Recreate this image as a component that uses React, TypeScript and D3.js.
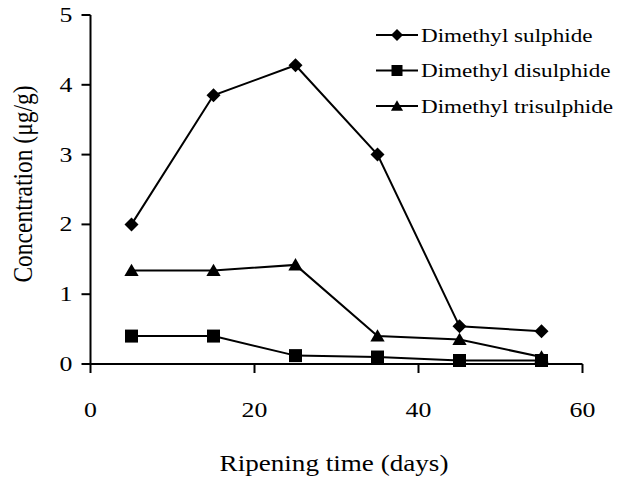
import React from "react";
import * as d3 from "d3";

const days = [5, 15, 25, 35, 45, 55];
const sulphide = [2.0, 3.85, 4.28, 3.0, 0.54, 0.47];
const disulphide = [0.4, 0.4, 0.12, 0.1, 0.05, 0.05];
const trisulphide = [1.34, 1.34, 1.42, 0.4, 0.35, 0.1];
const xTicks = [0, 20, 40, 60];
const yTicks = [0, 1, 2, 3, 4, 5];
const seriesNames = ["Dimethyl sulphide", "Dimethyl disulphide", "Dimethyl trisulphide"];
const seriesShapes = ["diamond", "square", "triangle"];

const W = 624;
const H = 479;
const FONT = "'Liberation Serif', serif";

function marker(shape: string, r: number) {
  const p = d3.path();
  if (shape === "diamond") {
    p.moveTo(0, -r);
    p.lineTo(r, 0);
    p.lineTo(0, r);
    p.lineTo(-r, 0);
  } else if (shape === "square") {
    p.rect(-r, -r, 2 * r, 2 * r);
  } else {
    p.moveTo(0, -r * 1.05);
    p.lineTo(r * 1.1, r * 0.85);
    p.lineTo(-r * 1.1, r * 0.85);
  }
  p.closePath();
  return p.toString();
}

const markerR = [7, 6.5, 6.5];
const legendR = [6, 5.5, 5.5];

export default function App() {
  const x = d3.scaleLinear().domain([0, 60]).range([90.5, 582.5]);
  const y = d3.scaleLinear().domain([0, 5]).range([364, 15]);
  const data = [sulphide, disulphide, trisulphide];
  const line = d3
    .line<number>()
    .x((_, i) => x(days[i]))
    .y((d) => y(d));

  return (
    <svg
      width={W}
      height={H}
      style={{ position: "absolute", left: 0, top: 0, background: "#fff" }}
      fontFamily={FONT}
    >
      <rect width={W} height={H} fill="#fff" />
      {/* axes */}
      <line x1={x(0)} x2={x(0)} y1={y(5)} y2={y(0)} stroke="#000" strokeWidth={2} />
      <line x1={x(0)} x2={x(60)} y1={y(0)} y2={y(0)} stroke="#000" strokeWidth={2} />
      {yTicks.map((t) => (
        <g key={"y" + t}>
          <line x1={x(0) - 9} x2={x(0)} y1={y(t)} y2={y(t)} stroke="#000" strokeWidth={2} />
          <text
            transform={`translate(${x(0) - 18},${y(t) + 7}) scale(1.2,1)`}
            textAnchor="end"
            fontSize={21.5}
          >
            {t}
          </text>
        </g>
      ))}
      {xTicks.map((t) => (
        <g key={"x" + t}>
          <line x1={x(t)} x2={x(t)} y1={y(0)} y2={y(0) + 9} stroke="#000" strokeWidth={2} />
          <text
            transform={`translate(${x(t)},417) scale(1.2,1)`}
            textAnchor="middle"
            fontSize={21.5}
          >
            {t}
          </text>
        </g>
      ))}
      <text
        transform={`translate(32,184) rotate(-90) scale(1,1.15)`}
        textAnchor="middle"
        fontSize={23.5}
      >
        Concentration (μg/g)
      </text>
      <text
        transform={`translate(334,471) scale(1.13,1)`}
        textAnchor="middle"
        fontSize={24}
      >
        Ripening time (days)
      </text>
      {/* series */}
      {data.map((s, si) => (
        <g key={"s" + si}>
          <path d={line(s) || ""} fill="none" stroke="#000" strokeWidth={2} />
          {s.map((v, i) => (
            <path
              key={i}
              transform={`translate(${x(days[i])},${y(v)})`}
              d={marker(seriesShapes[si], markerR[si])}
              fill="#000"
            />
          ))}
        </g>
      ))}
      {/* legend */}
      {seriesNames.map((n, i) => {
        const ly = 35 + i * 35.5;
        return (
          <g key={"l" + i}>
            <line x1={376} x2={418} y1={ly} y2={ly} stroke="#000" strokeWidth={2} />
            <path
              transform={`translate(397,${ly})`}
              d={marker(seriesShapes[i], legendR[i])}
              fill="#000"
            />
            <text
              transform={`translate(421,${ly + 6.5}) scale(1.25,1)`}
              fontSize={18.5}
            >
              {n}
            </text>
          </g>
        );
      })}
    </svg>
  );
}
